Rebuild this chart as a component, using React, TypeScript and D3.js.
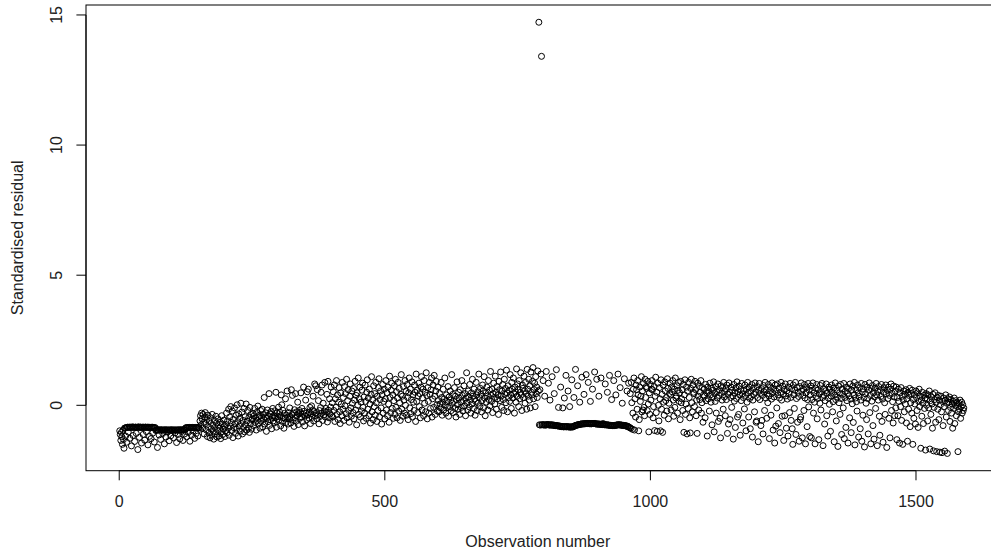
import React from "react";
import * as d3 from "d3";

// Standardised residuals (in hundredths), observation 1..1590
const residObs1to160 = [
  -98,-112,-135,-104,-121,-150,-96,-131,-165,-88,-87,-118,-86,-142,-85,-84,-103,-85,-84,-127,
  -84,-85,-156,-84,-83,-116,-84,-85,-139,-84,-84,-108,-85,-84,-170,-84,-83,-123,-85,-84,
  -84,-145,-85,-84,-112,-84,-85,-134,-84,-84,-101,-85,-84,-152,-85,-84,-119,-85,-85,-128,
  -85,-84,-107,-85,-86,-141,-86,-86,-97,-95,-94,-162,-95,-95,-114,-95,-94,-131,-95,-95,
  -95,-108,-95,-95,-148,-95,-94,-122,-95,-95,-103,-95,-95,-136,-95,-95,-117,-95,-94,-97,
  -95,-125,-95,-95,-106,-95,-95,-143,-95,-95,-112,-95,-94,-129,-95,-95,-101,-94,-95,-135,
  -94,-95,-110,-94,-87,-86,-121,-86,-86,-104,-86,-85,-138,-86,-86,-115,-86,-85,-99,-86,
  -86,-127,-86,-85,-108,-86,-85,-118,-85,-86,-92,-60,-40,-75,-30,-52,-88,-35,-65,-110,
];
const residObs161to250 = [
  -45,-28,-70,-95,-55,-120,-38,-82,-105,-62,-125,-48,-90,-115,-35,-75,-100,-130,-58,-85,
  -110,-42,-68,-122,-95,-52,-78,-118,-88,-65,-128,-102,-40,-72,-112,-92,-57,-83,-120,-98,
  -74,-30,-105,-60,-88,-15,-115,-45,-80,-5,-66,-97,-22,-124,-54,-86,-10,-71,-108,-38,
  -92,2,-63,-118,-33,-80,-50,-99,8,-70,-26,-110,-58,-85,-12,-102,-44,-75,5,-95,
  -60,-20,-88,-47,-104,-8,-70,-35,-92,-55,
];
const residObs251to400 = [
  -52,-31,-78,-40,-12,-66,-49,-95,-27,-58,-3,-71,-44,-38,-88,-20,-61,-47,-15,-83,
  -36,-54,30,-72,-45,-29,-100,-50,-18,-63,-41,45,-77,-33,-56,-24,-90,-46,-12,-60,
  -39,-68,-21,-48,50,-84,-30,-53,-44,-7,
  -57,-26,-41,-79,40,2,-62,-19,-48,-88,-31,-50,25,-66,-38,55,-45,-72,-28,-53,
  -10,-43,-68,60,-36,38,-55,-30,-81,-17,-47,45,-61,-25,-39,12,-74,-33,-20,-50,
  -28,48,-45,-12,-64,-35,70,-23,-79,-41,20,-30,-55,52,-37,62,-49,-26,-8,-70,
  -33,-2,-46,-18,35,-60,-24,82,-40,75,-28,-52,60,-36,18,-71,-20,-43,-9,50,
  -31,78,-58,8,-37,-22,88,-45,-12,-26,42,-64,92,-19,-48,25,-33,-7,70,-40,
];
const residObs401to600 = [
  10,-45,52,-20,78,-62,25,-8,95,-35,40,-55,12,68,-25,-70,48,5,-40,88,
  -15,30,-58,72,-2,45,-32,100,-48,18,60,-20,-65,35,82,-10,-42,55,8,-28,
  65,-52,20,92,-18,38,-75,48,0,105,-35,25,70,-45,12,-22,58,85,-8,-60,
  32,-30,78,15,-50,50,98,-15,28,-40,62,5,-68,42,110,-25,20,-55,75,-5,
  45,-38,88,10,-62,35,-20,68,102,-45,22,55,-10,-72,40,80,-30,15,62,-52,
  25,95,-18,48,-40,70,5,-65,112,30,-28,58,85,-12,40,-50,18,75,-35,100,
  -8,52,-48,28,88,-22,65,10,-58,42,118,-15,35,-42,72,20,-30,95,0,55,
  -38,80,30,-55,48,105,-10,62,-32,22,90,-45,40,12,-20,78,50,-62,120,15,
  58,-28,35,85,-5,45,-48,70,110,-18,28,62,-40,95,8,50,-25,125,38,-52,
  68,15,-30,88,42,-12,60,105,-45,25,78,-8,115,35,-35,55,92,2,-22,70,
];
const residObs601to790 = [
  18,-25,45,5,-10,88,30,-38,12,62,-18,25,105,0,-30,40,15,-8,72,-42,
  32,-5,55,20,-20,118,8,42,-28,15,68,-12,35,-45,22,90,2,-15,50,28,
  -35,60,12,-8,95,38,-22,18,75,-2,45,-40,28,125,10,-18,55,32,-6,80,
  20,-30,48,5,100,35,-12,62,25,-38,15,88,40,-20,52,8,120,30,-5,65,
  42,-25,18,78,55,-10,110,28,-40,48,12,70,35,-18,95,22,58,-2,130,38,
  15,62,-28,45,85,30,5,112,50,-15,72,25,40,-35,92,60,18,128,35,-8,
  55,80,22,-20,100,42,65,10,135,48,-25,75,30,58,15,118,40,-12,88,62,
  28,105,45,-30,70,52,12,140,35,82,60,-5,95,25,50,125,40,-20,78,65,
  30,112,55,8,88,45,-15,138,62,35,100,20,75,-10,128,50,40,92,145,25,
  60,85,-5,110,45,70,30,132,55,1472,
];
const residObs791to960 = [
  -75,60,-76,120,1341,-75,-74,95,-75,-76,
  35,-75,-76,130,-75,-74,-74,85,-75,-76,20,-76,-75,-75,110,-76,-77,-76,45,-77,
  -78,-78,137,-78,-79,-79,-8,-80,-80,-80,70,-81,-82,-82,-10,-82,-83,28,-82,-82,
  115,-83,-82,-82,55,-83,-83,-5,-84,-83,-83,98,-83,-83,-82,30,-80,-78,138,-77,
  -76,-76,75,-75,-74,-74,12,-73,-72,-72,108,-72,-71,-71,42,-71,-71,-70,118,-70,
  -70,-70,88,-70,-70,-71,15,-71,-71,-70,62,-70,-70,-70,128,-70,-71,-72,100,-72,
  -72,-72,35,-72,-73,-73,105,-73,-74,-74,-70,-74,-74,-75,82,-75,-75,-75,50,-76,
  -76,-76,115,-77,-77,-77,22,-78,-78,-78,95,-78,-77,-77,40,-76,-76,-75,120,-75,
  -75,-75,68,-76,-76,-76,8,-77,-77,-78,102,-78,-79,-79,-80,55,-80,-82,85,-84,
];
const residObs961to1100 = [
  -86,45,-88,88,10,-92,-30,62,105,-95,25,-45,78,60,-15,95,40,-98,-55,70,
  15,35,110,-25,55,-18,85,-8,-40,100,30,72,65,-20,92,5,-102,48,-35,80,
  20,62,95,60,-48,-5,72,-97,35,108,-28,50,-100,85,0,-60,68,25,-98,98,
  -15,42,-104,78,12,-38,90,55,18,30,-22,102,65,-52,8,45,85,40,-18,70,
  52,95,20,-42,62,-8,105,28,35,75,-30,58,88,15,48,-55,92,10,25,60,
  -20,80,-104,40,98,-35,5,70,-110,55,-12,88,30,-48,-106,65,100,10,-25,78,
  50,45,-5,92,60,-40,20,-108,85,35,-18,72,22,50,95,-30,10,68,-65,40,
];
const residObs1101to1300 = [
  62,35,-48,80,18,48,-118,70,25,55,-22,85,40,12,66,-75,30,58,90,-102,
  45,15,72,-30,52,28,82,-62,38,60,-50,-125,75,46,20,68,-15,88,32,54,
  -40,64,22,78,-108,42,-72,86,50,-55,30,70,-8,58,36,-130,80,16,48,-85,
  66,26,90,-45,52,-35,74,40,-115,60,18,84,44,-68,30,56,-14,78,38,-98,
  62,12,88,48,-45,70,26,-90,54,34,80,-122,20,66,42,-25,86,50,-65,-60,
  72,30,-140,58,84,22,46,-78,64,-58,38,-110,76,52,-20,88,28,60,-50,44,
  10,80,36,-128,56,70,-38,24,86,48,-95,62,32,-145,78,-80,54,-10,82,40,
  -70,66,28,-105,50,88,20,-42,74,44,-135,60,-40,82,36,-88,56,24,-118,70,
  46,-28,84,30,-58,64,-90,-150,78,40,-12,58,88,-112,26,68,-65,50,34,-138,
  72,-55,-45,86,54,-125,38,62,-20,80,28,-148,48,70,-82,22,84,-6,58,-120,
];
const residObs1301to1460 = [
  40,74,-125,22,58,86,-30,48,12,-148,66,34,80,-52,26,60,-132,44,8,76,
  -18,52,84,30,-155,64,38,-72,18,56,82,-40,46,-118,28,70,4,62,-100,36,
  78,50,-25,14,66,-140,40,86,22,-60,58,32,-158,74,10,48,-35,80,26,-112,
  62,42,-10,84,-128,30,54,-85,70,18,46,-145,64,36,-48,82,24,-105,58,6,
  74,-66,40,88,-152,28,60,14,-22,78,48,-122,34,68,-90,20,84,-138,52,-38,
  62,30,-160,80,44,8,-55,70,26,-110,58,86,-28,38,-148,64,16,76,-78,48,
  -130,32,66,-12,84,40,-155,54,20,72,-42,-115,60,34,80,-62,24,-142,50,68,
  10,-35,78,44,-162,58,26,70,-50,38,-125,62,82,-20,46,14,-68,74,32,-40,
];
const residObs1461to1590 = [
  55,-10,70,-132,30,-40,62,15,-145,48,-5,68,-58,35,-150,20,55,-25,42,5,
  60,-68,25,-138,50,-15,38,65,-82,10,45,-30,58,-150,22,-50,40,5,-72,55,
  30,-20,48,-85,15,62,-5,35,-165,20,-42,50,8,-70,38,-12,28,-172,45,0,
  25,-60,40,-10,55,-168,18,-35,32,5,-88,42,-175,-8,22,48,-65,12,-178,30,
  -15,38,-55,20,-180,2,35,-25,-182,15,-78,28,-5,-176,18,40,-45,8,-185,25,
  -20,12,32,-62,-8,22,-30,5,-88,15,-12,28,-70,0,18,-40,10,-5,-178,-25,
  8,-15,20,-50,-5,12,-30,2,-20,-10,
];

const residualsHundredths = [
  ...residObs1to160, ...residObs161to250, ...residObs251to400, ...residObs401to600,
  ...residObs601to790, ...residObs791to960, ...residObs961to1100, ...residObs1101to1300,
  ...residObs1301to1460, ...residObs1461to1590,
];

const xTicks = [0, 500, 1000, 1500];
const yTicks = [0, 5, 10, 15];
const xTitle = "Observation number";
const yTitle = "Standardised residual";

const W = 991;
const H = 552;

export default function App() {
  const data = residualsHundredths.map((v, i) => ({ obs: i + 1, r: v / 100 }));
  const n = data.length;
  const xExt: [number, number] = [1, n];
  const yExt = d3.extent(data, (d) => d.r) as [number, number];
  const xPad = (xExt[1] - xExt[0]) * 0.04;
  const yPad = (yExt[1] - yExt[0]) * 0.04;

  const left = 86;
  const top = 5;
  const bottom = 470.7;
  const pxPerObs = (916 - 119.3) / 1500;
  const right = 119.3 + (xExt[1] + xPad) * pxPerObs;

  const x = d3.scaleLinear().domain([xExt[0] - xPad, xExt[1] + xPad]).range([left, right]);
  const y = d3.scaleLinear().domain([yExt[0] - yPad, yExt[1] + yPad]).range([bottom, top]);

  const font = "'Liberation Sans', Arial, sans-serif";
  const textColor = "#222";

  return (
    <svg
      width={W}
      height={H}
      style={{ position: "absolute", left: 0, top: 0, background: "#fff" }}
      fontFamily={font}
    >
      <rect x={0} y={0} width={W} height={H} fill="#fff" />
      <g fill="none" stroke="#000" strokeWidth={1}>
        {data.map((d) => (
          <circle key={d.obs} cx={x(d.obs)} cy={y(d.r)} r={3} />
        ))}
      </g>
      <rect
        x={left}
        y={top}
        width={right - left}
        height={bottom - top}
        fill="none"
        stroke="#000"
        strokeWidth={1}
      />
      <g stroke="#000" strokeWidth={1}>
        <line x1={x(xTicks[0])} x2={x(xTicks[xTicks.length - 1])} y1={bottom} y2={bottom} />
        {xTicks.map((t) => (
          <line key={t} x1={x(t)} x2={x(t)} y1={bottom} y2={bottom + 9.6} />
        ))}
      </g>
      {xTicks.map((t) => (
        <text key={t} x={x(t)} y={507} textAnchor="middle" fontSize={16} fill={textColor}>
          {t}
        </text>
      ))}
      <g stroke="#000" strokeWidth={1}>
        <line x1={left} x2={left} y1={y(yTicks[0])} y2={y(yTicks[yTicks.length - 1])} />
        {yTicks.map((t) => (
          <line key={t} x1={left - 9.6} x2={left} y1={y(t)} y2={y(t)} />
        ))}
      </g>
      {yTicks.map((t) => (
        <text
          key={t}
          transform={`translate(62,${y(t)}) rotate(-90)`}
          textAnchor="middle"
          fontSize={16}
          fill={textColor}
        >
          {t}
        </text>
      ))}
      <text x={(left + right) / 2 - 4} y={547} textAnchor="middle" fontSize={16} fill={textColor}>
        {xTitle}
      </text>
      <text
        transform={`translate(23,${(top + bottom) / 2}) rotate(-90)`}
        textAnchor="middle"
        fontSize={16}
        fill={textColor}
      >
        {yTitle}
      </text>
    </svg>
  );
}
